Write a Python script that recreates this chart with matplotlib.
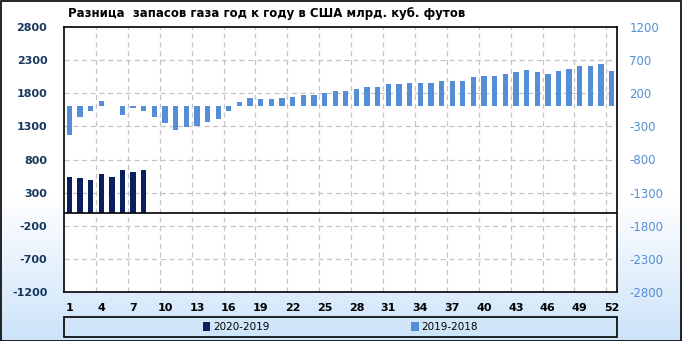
import numpy as np
import matplotlib
matplotlib.use("Agg")
import matplotlib.pyplot as plt
from matplotlib.patches import Rectangle, Patch

weeks = list(range(1, 53))
diff_2020_2019 = [543, 528, 498, 574, 543, 649, 604, 634]
diff_2019_2018 = [-433, -156, -65, 80, 0, -126, -25, -65, -156, -252,
                  -357, -312, -297, -236, -186, -70, 65, 126, 111, 111,
                  126, 141, 171, 171, 201, 231, 231, 262, 292, 292,
                  337, 337, 352, 352, 352, 382, 382, 382, 443, 458,
                  458, 488, 518, 548, 518, 488, 533, 564, 609, 609,
                  639, 533]
left_ticks = [2800, 2300, 1800, 1300, 800, 300, -200, -700, -1200]
right_ticks = [1200, 700, 200, -300, -800, -1300, -1800, -2300, -2800]
xtick_labels = list(range(1, 53, 3))
title = "Разница  запасов газа год к году в США млрд. куб. футов"
labels = ["2020-2019", "2019-2018"]

DARK = "#0b1f5c"
LIGHT = "#558ed5"
W, H = 682, 341

fig = plt.figure(figsize=(W / 100, H / 100), dpi=100)

# background gradient
bg = fig.add_axes([0, 0, 1, 1], zorder=-10)
yy = np.linspace(0, 1, 300)
t = np.clip((yy - 0.58) / 0.42, 0, 1)
top = np.array([1.0, 1.0, 1.0])
bot = np.array([0.80, 0.89, 0.975])
grad = top[None, :] * (1 - t[:, None]) + bot[None, :] * t[:, None]
bg.imshow(grad[:, None, :], aspect="auto", extent=[0, 1, 0, 1], origin="upper")
bg.set_xlim(0, 1); bg.set_ylim(0, 1)
bg.axis("off")
bg.add_patch(Rectangle((0.5 / W, 0.5 / H), 1 - 1.5 / W, 1 - 1.5 / H,
                       fill=False, edgecolor="black", linewidth=1.2,
                       transform=bg.transAxes))

L, R, T, B = 64, 617, 27, 292
ax = fig.add_axes([L / W, (H - B) / H, (R - L) / W, (B - T) / H])
ax.set_facecolor("white")
ax.set_xlim(0.5, 52.5)
ax.set_ylim(-1200, 2800)
ax.set_yticks(left_ticks)
ax.set_yticklabels([str(v) for v in left_ticks], color="#17375e",
                   fontweight="bold", fontsize=8)
ax.set_xticks(xtick_labels)
ax.set_xticklabels([str(v) for v in xtick_labels], fontweight="bold",
                   fontsize=8, color="black")
ax.tick_params(axis="both", which="both", length=0)
ax.tick_params(axis="y", pad=12)
ax.tick_params(axis="x", pad=8)
ax.grid(False)
for v in left_ticks[1:-1]:
    ax.axhline(v, color="#c4c4c4", linestyle=(0, (4, 3)), linewidth=0.9, zorder=0)
for xv in np.arange(3.5, 52, 3):
    ax.axvline(xv, color="#c4c4c4", linestyle=(0, (4, 3)), linewidth=0.9, zorder=0)
ax.axhline(0, color="black", linewidth=1.2, zorder=3)
for s in ax.spines.values():
    s.set_color("black"); s.set_linewidth(1.2)

ax.bar(weeks[:len(diff_2020_2019)], diff_2020_2019, width=0.5, color=DARK, zorder=2)

ax2 = ax.twinx()
ax2.set_ylim(-2800, 1200)
ax2.set_yticks(right_ticks)
ax2.set_yticklabels([str(v) for v in right_ticks], color=LIGHT, fontsize=8.5)
ax2.tick_params(axis="y", length=0, pad=9)
ax2.bar(weeks, diff_2019_2018, width=0.5, color=LIGHT, zorder=2)
for s in ax2.spines.values():
    s.set_visible(False)

fig.text(68 / W, 1 - 13 / H, title, fontsize=8.5, fontweight="bold",
         ha="left", va="center")

# legend
lx0, lx1, ly0, ly1 = 64, 617, 317, 337
bg.add_patch(Rectangle((lx0 / W, 1 - ly1 / H), (lx1 - lx0) / W, (ly1 - ly0) / H,
                       fill=False, edgecolor="black", linewidth=1.2,
                       transform=bg.transAxes))
handles = [Patch(facecolor=DARK), Patch(facecolor=LIGHT)]
fig.legend(handles, labels, loc="center",
           bbox_to_anchor=((lx0 + lx1) / 2 / W, 1 - (ly0 + ly1) / 2 / H),
           ncol=2, frameon=False, fontsize=7.5, handlelength=0.7,
           handleheight=0.9, handletextpad=0.3, columnspacing=13.6,
           borderaxespad=0, borderpad=0)

fig.savefig("out.png", dpi=100)
